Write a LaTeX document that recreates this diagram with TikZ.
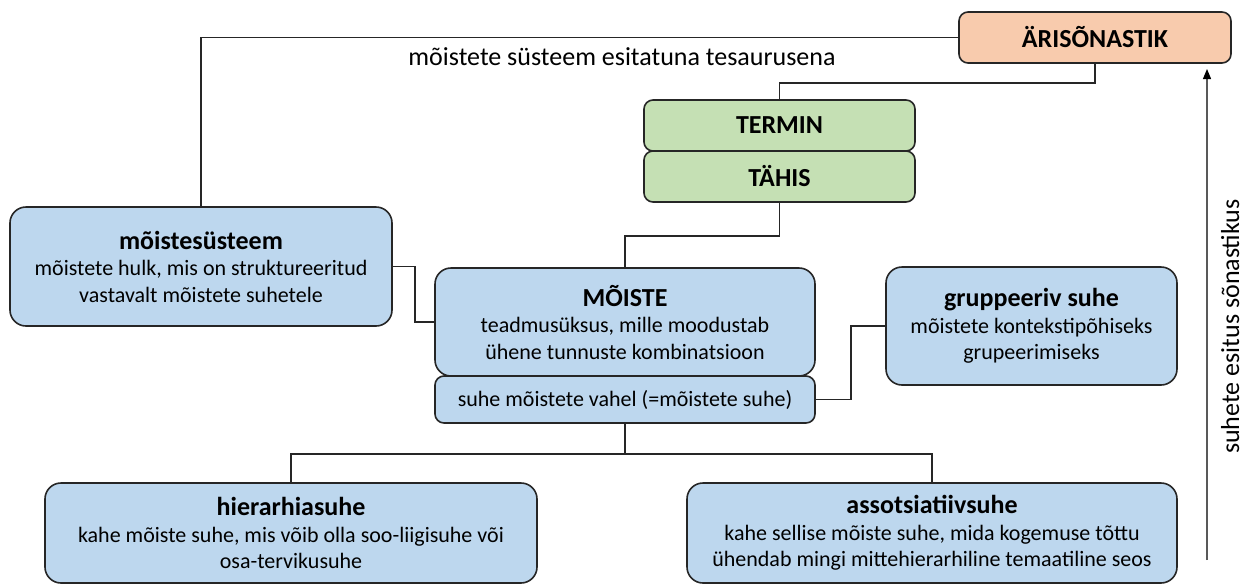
\documentclass[tikz,border=0pt]{standalone}
\usepackage{fontspec}
\setmainfont{Carlito}
\usetikzlibrary{calc,arrows.meta}
\definecolor{bfill}{HTML}{BDD7EE}
\definecolor{gfill}{HTML}{C5E0B4}
\definecolor{ofill}{HTML}{F8CBAD}
\definecolor{edge}{HTML}{262626}
\definecolor{arrgray}{HTML}{595959}
\tikzset{
  box/.style={draw=edge, line width=1.6pt, rounded corners=16pt, fill=bfill, align=center, inner sep=0pt, text=black},
  smallbox/.style={box, rounded corners=9pt},
  conn/.style={draw=edge, line width=1.6pt},
  body/.style={font=\fontsize{22}{26.5}\selectfont},
  big/.style={font=\fontsize{26}{30}\selectfont},
}
\newcommand{\ttl}[1]{{\fontsize{26}{29}\selectfont\bfseries #1}}
\begin{document}
\begin{tikzpicture}[x=1pt,y=-1pt]
\useasboundingbox (0,0) rectangle (1245,584);
% boxes
\node[smallbox, fill=ofill, minimum width=272pt, minimum height=51pt] (aris) at (1095,37.5) {\ttl{ÄRISÕNASTIK}};
\node[smallbox, fill=gfill, minimum width=271pt, minimum height=51pt] (termin) at (779.5,125.5) {\ttl{TERMIN}};
\node[smallbox, fill=gfill, minimum width=271pt, minimum height=51pt] (tahis) at (779.5,176.5) {\ttl{TÄHIS}};
\node[box, body, minimum width=382pt, minimum height=119pt] (msys) at (201,266.5) {\ttl{mõistesüsteem}\\mõistete hulk, mis on struktureeritud\\vastavalt mõistete suhetele};
\node[box, body, minimum width=380pt, minimum height=108pt] (moiste) at (625,322) {\ttl{MÕISTE}\\teadmusüksus, mille moodustab\\ühene tunnuste kombinatsioon};
\node[smallbox, body, minimum width=380pt, minimum height=47pt] (suhe) at (625,399.5) {suhe mõistete vahel (=mõistete suhe)};
\node[box, body, minimum width=291pt, minimum height=118pt] (grupp) at (1031.5,326) {\ttl{gruppeeriv suhe}\\mõistete kontekstipõhiseks\\grupeerimiseks};
\node[box, body, minimum width=492pt, minimum height=100pt] (hier) at (291,533) {\ttl{hierarhiasuhe}\\kahe mõiste suhe, mis võib olla soo-liigisuhe või\\osa-tervikusuhe};
\node[box, body, minimum width=490pt, minimum height=100pt] (asso) at (932,533) {\ttl{assotsiatiivsuhe}\\kahe sellise mõiste suhe, mida kogemuse tõttu\\ühendab mingi mittehierarhiline temaatiline seos};
% labels
\node[big, anchor=center] (lbl) at (622,57) {mõistete süsteem esitatuna tesaurusena};
\node[big, rotate=90, anchor=base] (side) at (1239,326.5) {suhete esitus sõnastikus};
% connectors
\draw[conn] (aris.west) -| (msys.north);
\draw[conn] (aris.south) -- ++(0,19) -| (termin.north);
\draw[conn] (tahis.south) -- ++(0,33) -| (moiste.north);
\draw[conn] (msys.east) -- ++(22,0) |- ($(moiste.west)+(0,0)$);
\draw[conn] (suhe.east) -- ++(35,0) |- (grupp.west);
\draw[conn] (suhe.south) -- ++(0,30) coordinate (fork);
\draw[conn] (hier.north) |- (fork) -| (asso.north);
\coordinate (arrbot) at (1207,560);
\coordinate (arrtop) at (1207,69);
\draw[draw=arrgray, line width=1.2pt, -{Triangle[length=10pt,width=8pt,color=black]}] (arrbot) -- (arrtop);
\end{tikzpicture}
\end{document}
